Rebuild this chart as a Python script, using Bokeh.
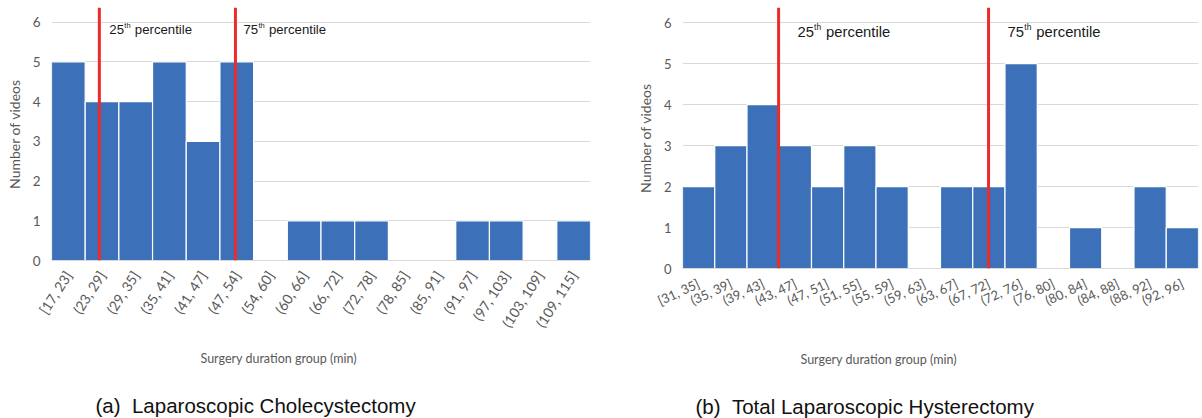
import math

from bokeh.embed import file_html
from bokeh.layouts import row
from bokeh.models import FactorRange, FixedTicker, Label, Range1d, Span, Title
from bokeh.plotting import figure
from bokeh.resources import INLINE

# Laparoscopic cholecystectomy: duration bins and number of videos per bin
lc_bins = ["[17, 23]", "(23, 29]", "(29, 35]", "(35, 41]", "(41, 47]", "(47, 54]",
           "(54, 60]", "(60, 66]", "(66, 72]", "(72, 78]", "(78, 85]", "(85, 91]",
           "(91, 97]", "(97, 103]", "(103, 109]", "(109, 115]"]
lc_counts = [5, 4, 4, 5, 3, 5, 0, 1, 1, 1, 0, 0, 1, 1, 0, 1]
# percentile markers, expressed in bin units along the category axis
lc_p25 = 1.42
lc_p75 = 5.46

# Total laparoscopic hysterectomy
tlh_bins = ["[31, 35]", "(35, 39]", "(39, 43]", "(43, 47]", "(47, 51]", "(51, 55]",
            "(55, 59]", "(59, 63]", "(63, 67]", "(67, 72]", "(72, 76]", "(76, 80]",
            "(80, 84]", "(84, 88]", "(88, 92]", "(92, 96]"]
tlh_counts = [2, 3, 4, 3, 2, 3, 2, 0, 2, 2, 5, 0, 1, 0, 2, 1]
tlh_p25 = 2.98
tlh_p75 = 9.49

y_ticks = [0, 1, 2, 3, 4, 5, 6]
y_max = 6.37

BAR = "#3C71B9"
GRID = "#D9D9D9"
RED = "#EC2B2B"
AXIS_TEXT = "#595959"


def percentile_label(p, x, y, ordinal, offs, size, sup_size, sup_rise):
    """Draw e.g. '25th percentile' with a raised 'th' next to a marker line."""
    common = dict(x=x, y=y, text_font="Liberation Sans", text_color="#1A1A1A",
                  text_baseline="alphabetic")
    p.add_layout(Label(text=ordinal, x_offset=offs[0], text_font_size=size, **common))
    p.add_layout(Label(text="th", x_offset=offs[1], y_offset=sup_rise,
                       text_font_size=sup_size, **common))
    p.add_layout(Label(text="percentile", x_offset=offs[2], text_font_size=size, **common))


def make_panel(bins, counts, p25, p75, caption, *, border_left, frame_w, border_right,
               frame_h, border_bottom, xlab_angle, xlab_size, ytick_size,
               xlab_standoff, ylab_standoff, pct_y, pct_size, sup_size, sup_rise,
               offs25, offs75, title_offset, title_standoff, cap_offset, cap_standoff):
    p = figure(x_range=FactorRange(factors=bins), y_range=Range1d(0, y_max),
               frame_width=frame_w, frame_height=frame_h,
               min_border_left=border_left, min_border_right=border_right,
               min_border_top=7, min_border_bottom=border_bottom,
               output_backend="svg", toolbar_location=None, outline_line_color=None,
               background_fill_color="white", border_fill_color="white")

    p.vbar(x=bins, top=counts, width=1.0, fill_color=BAR, line_color="white",
           line_width=1.2)

    p.xgrid.grid_line_color = None
    p.ygrid.grid_line_color = GRID
    p.ygrid.grid_line_width = 1.2
    p.ygrid.ticker = FixedTicker(ticks=y_ticks)

    p.yaxis.ticker = FixedTicker(ticks=y_ticks)
    p.yaxis.axis_line_color = None
    p.yaxis.major_tick_line_color = None
    p.yaxis.minor_tick_line_color = None
    p.yaxis.major_tick_out = 0
    p.yaxis.major_label_standoff = 11
    p.yaxis.major_label_text_font = "Lato"
    p.yaxis.major_label_text_font_size = ytick_size
    p.yaxis.major_label_text_color = AXIS_TEXT
    p.yaxis.axis_label = "Number of videos"
    p.yaxis.axis_label_text_font = "Lato"
    p.yaxis.axis_label_text_font_size = "14px"
    p.yaxis.axis_label_text_font_style = "normal"
    p.yaxis.axis_label_text_color = AXIS_TEXT
    p.yaxis.axis_label_standoff = ylab_standoff

    p.xaxis.axis_line_color = GRID
    p.xaxis.axis_line_width = 1.2
    p.xaxis.major_tick_line_color = None
    p.xaxis.minor_tick_line_color = None
    p.xaxis.major_tick_out = 0
    p.xaxis.major_label_standoff = xlab_standoff
    p.xaxis.major_label_orientation = math.radians(xlab_angle)
    p.xaxis.major_label_text_font = "Lato"
    p.xaxis.major_label_text_font_size = xlab_size
    p.xaxis.major_label_text_color = AXIS_TEXT

    for loc in (p25, p75):
        p.add_layout(Span(location=loc, dimension="height", line_color=RED,
                          line_width=3))

    percentile_label(p, p25, pct_y, "25", offs25, pct_size, sup_size, sup_rise)
    percentile_label(p, p75, pct_y, "75", offs75, pct_size, sup_size, sup_rise)

    p.add_layout(Title(text="Surgery duration group (min)", align="left",
                       offset=title_offset, standoff=title_standoff,
                       text_font="Lato", text_font_size="12.5px",
                       text_font_style="normal", text_color=AXIS_TEXT), "below")
    p.add_layout(Title(text=caption, align="left", offset=cap_offset,
                       standoff=cap_standoff, text_font="Liberation Sans",
                       text_font_size="20.5px", text_font_style="normal",
                       text_color="#111111"), "below")
    return p


left = make_panel(lc_bins, lc_counts, lc_p25, lc_p75,
                  "(a)\u00a0\u00a0Laparoscopic Cholecystectomy",
                  border_left=51, frame_w=539, border_right=11, frame_h=253,
                  border_bottom=158, xlab_angle=57, xlab_size="14px",
                  ytick_size="13.5px", xlab_standoff=12, ylab_standoff=7,
                  pct_y=5.81, pct_size="13.2px", sup_size="7.5px", sup_rise=4,
                  offs25=(10, 25, 35.5), offs75=(8, 23, 33.5),
                  title_offset=149, title_standoff=20,
                  cap_offset=44, cap_standoff=33)

right = make_panel(tlh_bins, tlh_counts, tlh_p25, tlh_p75,
                   "(b)\u00a0\u00a0Total Laparoscopic Hysterectomy",
                   border_left=81, frame_w=516, border_right=4, frame_h=261,
                   border_bottom=150, xlab_angle=25, xlab_size="13px",
                   ytick_size="13px", xlab_standoff=14, ylab_standoff=7,
                   pct_y=5.78, pct_size="14.8px", sup_size="8.5px", sup_rise=5,
                   offs25=(19, 35.5, 47.5), offs75=(19, 35.8, 47.8),
                   title_offset=118, title_standoff=63,
                   cap_offset=13, cap_standoff=-12)

layout = row(left, right, spacing=0)

open("out.html", "w").write(file_html(layout, INLINE))
